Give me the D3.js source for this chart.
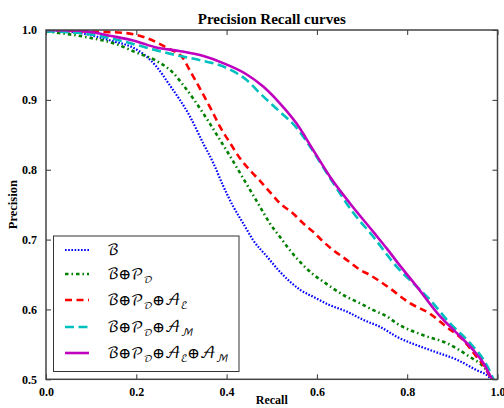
<!DOCTYPE html>
<html>
<head>
<meta charset="utf-8">
<title>Precision Recall curves</title>
<script src="https://cdn.jsdelivr.net/npm/d3@7/dist/d3.min.js"></script>
<style>
  body { margin: 0; background: #fff; }
  svg text { font-family: "Liberation Serif", "DejaVu Serif", serif; font-weight: bold; }
  .lg text { font-family: "DejaVu Math TeX Gyre", "DejaVu Sans", "DejaVu Serif", serif; font-weight: normal; }
</style>
</head>
<body>
<svg id="chart" width="504" height="408"></svg>
<script>
// series: recall / precision pairs
var recallB   = [0, .073, .148, .192, .221, .244, .273, .319, .348, .371, .393, .415, .437, .459, .489, .518, .540, .563, .592, .629, .666, .703, .740, .777, .850, .910, .954, .980, .988];
var precB     = [1, .996, .984, .975, .963, .948, .922, .876, .838, .809, .776, .747, .723, .699, .676, .654, .640, .628, .618, .606, .597, .585, .575, .561, .542, .528, .513, .504, .498];

var recallBP  = [0, .096, .155, .199, .244, .281, .303, .348, .363, .385, .408, .430, .452, .474, .496, .518, .540, .570, .592, .614, .636, .666, .695, .725, .755, .777, .836, .887, .939, .969, .983, .990];
var precBP    = [.998, .989, .980, .968, .956, .939, .922, .881, .866, .843, .819, .795, .771, .747, .723, .704, .685, .663, .650, .640, .630, .618, .609, .599, .590, .580, .563, .552, .532, .518, .506, .498];

var recallBPE = [0, .089, .170, .221, .266, .303, .317, .336, .367, .385, .408, .430, .452, .474, .496, .518, .548, .570, .592, .614, .636, .666, .695, .718, .740, .762, .806, .850, .887, .924, .954, .976, .988];
var precBPE   = [1, .998, .996, .989, .975, .960, .944, .922, .885, .862, .838, .816, .799, .784, .768, .752, .737, .723, .711, .697, .685, .671, .657, .649, .640, .630, .609, .594, .575, .556, .532, .513, .498];

var recallBPM = [0, .073, .170, .221, .295, .347, .399, .443, .481, .518, .555, .585, .629, .681, .725, .777, .814, .850, .895, .939, .969, .987, .992];
var precBPM   = [.998, .996, .984, .975, .963, .956, .946, .929, .905, .883, .860, .833, .788, .738, .704, .661, .637, .614, .580, .552, .528, .506, .498];

var recallAll = [0, .073, .148, .199, .244, .295, .347, .391, .443, .481, .518, .555, .592, .629, .673, .725, .755, .780, .821, .873, .910, .946, .969, .983, .990];
var precAll   = [1, .999, .991, .984, .975, .970, .963, .953, .937, .919, .895, .866, .828, .790, .752, .711, .687, .666, .633, .590, .566, .542, .523, .506, .498];

var xTicks = [0, 0.2, 0.4, 0.6, 0.8, 1.0];
var yTicks = [0.5, 0.6, 0.7, 0.8, 0.9, 1.0];

var series = [
  {r: recallB,   p: precB,   color: "#0000ff", dash: "1.6,1.6",     width: 2.2},
  {r: recallBP,  p: precBP,  color: "#008000", dash: "3.5,3,1.5,3", width: 2.6},
  {r: recallBPE, p: precBPE, color: "#ff0000", dash: "7,4.5",       width: 2.6},
  {r: recallBPM, p: precBPM, color: "#00bfbf", dash: "9,4.5",       width: 2.6},
  {r: recallAll, p: precAll, color: "#bf00bf", dash: null,          width: 2.6}
];

var svg = d3.select("#chart");
var pl = 46, pr = 497.5, pt = 30, pb = 379.3;

var x = d3.scaleLinear().domain([0, 1]).range([pl, pr]);
var y = d3.scaleLinear().domain([0.5, 1]).range([pb, pt]);

svg.append("defs").append("clipPath").attr("id", "clip")
  .append("rect").attr("x", pl).attr("y", pt)
  .attr("width", pr - pl).attr("height", pb - pt);

var line = d3.line()
  .curve(d3.curveMonotoneX)
  .x(function(d) { return x(d[0]); })
  .y(function(d) { return y(d[1]); });

var curves = svg.append("g").attr("clip-path", "url(#clip)");
series.forEach(function(s) {
  var pts = s.r.map(function(v, i) { return [v, s.p[i]]; });
  curves.append("path")
    .datum(pts)
    .attr("d", line)
    .attr("fill", "none")
    .attr("stroke", s.color)
    .attr("stroke-width", s.width)
    .attr("stroke-dasharray", s.dash);
});

// axes, ticks pointing inward on all four sides
var fmt = d3.format(".1f");
function styleAxis(g) {
  g.select(".domain").remove();
  g.selectAll(".tick line").attr("stroke", "#333").attr("stroke-width", 1);
  g.selectAll("text").attr("fill", "#000").style("font-size", "12px");
}
svg.append("g").attr("transform", "translate(0," + pb + ")")
  .call(d3.axisBottom(x).tickValues(xTicks).tickFormat(fmt).tickSizeInner(-5).tickSizeOuter(0).tickPadding(8))
  .call(styleAxis);
svg.append("g").attr("transform", "translate(0," + pt + ")")
  .call(d3.axisTop(x).tickValues(xTicks).tickFormat("").tickSizeInner(-5).tickSizeOuter(0))
  .call(styleAxis);
svg.append("g").attr("transform", "translate(" + pl + ",0)")
  .call(d3.axisLeft(y).tickValues(yTicks).tickFormat(fmt).tickSizeInner(-5).tickSizeOuter(0).tickPadding(9))
  .call(styleAxis);
svg.append("g").attr("transform", "translate(" + pr + ",0)")
  .call(d3.axisRight(y).tickValues(yTicks).tickFormat("").tickSizeInner(-5).tickSizeOuter(0))
  .call(styleAxis);

svg.append("rect")
  .attr("x", pl).attr("y", pt)
  .attr("width", pr - pl).attr("height", pb - pt)
  .attr("fill", "none").attr("stroke", "#444").attr("stroke-width", 1.5);

svg.append("text").attr("x", (pl + pr) / 2).attr("y", 24)
  .attr("text-anchor", "middle").style("font-size", "15px").text("Precision Recall curves");
svg.append("text").attr("x", (pl + pr) / 2).attr("y", 404)
  .attr("text-anchor", "middle").style("font-size", "12px").text("Recall");
svg.append("text").attr("transform", "translate(17," + ((pt + pb) / 2) + ") rotate(-90)")
  .attr("text-anchor", "middle").style("font-size", "12.5px").text("Precision");

// legend
var labels = [
  [["ℬ", ""]],
  [["ℬ⊕𝒫", ""], ["", "𝒟"]],
  [["ℬ⊕𝒫", ""], ["", "𝒟"], ["⊕𝒜", ""], ["", "ℰ"]],
  [["ℬ⊕𝒫", ""], ["", "𝒟"], ["⊕𝒜", ""], ["", "ℳ"]],
  [["ℬ⊕𝒫", ""], ["", "𝒟"], ["⊕𝒜", ""], ["", "ℰ"], ["⊕𝒜", ""], ["", "ℳ"]]
];
var rowY = [250, 274, 300, 327, 353];

var lg = svg.append("g").attr("class", "lg");
lg.append("rect").attr("x", 53.5).attr("y", 236).attr("width", 185.5).attr("height", 135.5)
  .attr("fill", "#fff").attr("stroke", "#333").attr("stroke-width", 1);

series.forEach(function(s, i) {
  lg.append("line")
    .attr("x1", 65).attr("x2", 89).attr("y1", rowY[i]).attr("y2", rowY[i])
    .attr("stroke", s.color).attr("stroke-width", s.width)
    .attr("stroke-dasharray", s.dash);
  var t = lg.append("text").attr("x", 107).attr("y", rowY[i] + 5).style("font-size", "15px");
  labels[i].forEach(function(part) {
    if (part[0]) {
      t.append("tspan").attr("dy", part === labels[i][0] ? 0 : -4).text(part[0]);
    } else {
      t.append("tspan").attr("dy", 4).style("font-size", "10px").text(part[1]);
    }
  });
});
</script>
</body>
</html>
